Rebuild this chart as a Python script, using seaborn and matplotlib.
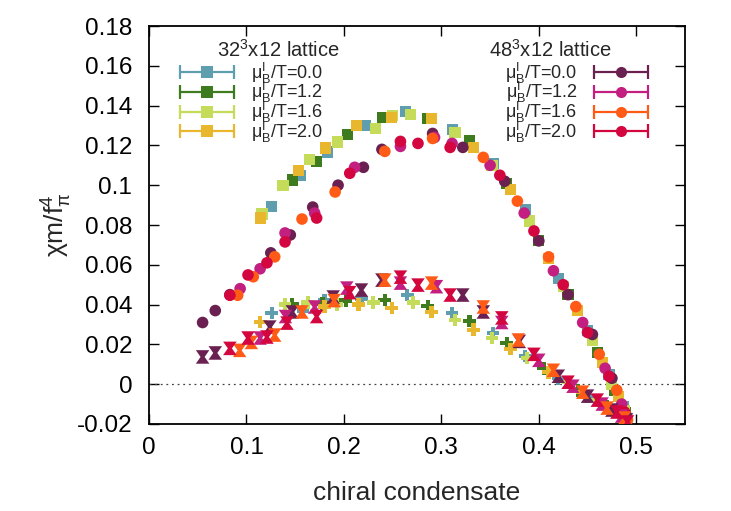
import matplotlib
matplotlib.use("Agg")
import matplotlib.pyplot as plt
import seaborn as sns
import pandas as pd
from matplotlib.legend_handler import HandlerLine2D
from matplotlib.lines import Line2D
from matplotlib.ticker import FuncFormatter

# mu_B^I/T values and colours
mu_values = ["0.0", "1.2", "1.6", "2.0"]
colors_32 = ["#5f9eae", "#3e7a1e", "#c4dc5a", "#e8b72e"]
colors_48 = ["#6a2050", "#c21f80", "#ff5b16", "#d3063f"]

# 32^3x12, upper branch (squares), one list per mu
up32_x = [
    [0.126, 0.155, 0.183, 0.222, 0.263, 0.311, 0.353, 0.386, 0.42, 0.45, 0.472, 0.487],
    [0.147, 0.172, 0.204, 0.240, 0.286, 0.329, 0.367, 0.40, 0.43, 0.46, 0.478, 0.489],
    [0.116, 0.1375, 0.165, 0.193, 0.232, 0.250, 0.268, 0.314, 0.352, 0.39, 0.425, 0.455, 0.475, 0.488],
    [0.114, 0.153, 0.181, 0.213, 0.249, 0.29, 0.333, 0.371, 0.41, 0.44, 0.465, 0.482, 0.490],
]
up32_y = [
    [0.0895, 0.105, 0.1167, 0.130, 0.137, 0.128, 0.111, 0.088, 0.053, 0.027, 0.005, -0.011],
    [0.1026, 0.112, 0.1257, 0.1338, 0.1335, 0.1225, 0.101, 0.072, 0.045, 0.016, -0.003, -0.014],
    [0.0855, 0.100, 0.1127, 0.1217, 0.1287, 0.135, 0.1357, 0.1265, 0.110, 0.082, 0.049, 0.022, 0.0, -0.013],
    [0.0835, 0.1076, 0.1187, 0.130, 0.1338, 0.1335, 0.119, 0.098, 0.063, 0.037, 0.011, -0.006, -0.018],
]

# 32^3x12, lower branch
lo32_x = [
    [0.126, 0.158, 0.180, 0.218, 0.265, 0.311, 0.353, 0.386, 0.42, 0.45, 0.475],
    [0.147, 0.178, 0.202, 0.242, 0.286, 0.329, 0.367, 0.405, 0.44, 0.47, 0.487],
    [0.1396, 0.163, 0.193, 0.230, 0.271, 0.314, 0.352, 0.388, 0.43, 0.46, 0.482],
    [0.114, 0.18, 0.215, 0.249, 0.29, 0.333, 0.371, 0.41, 0.445, 0.478, 0.49],
]
lo32_y = [
    [0.0358, 0.037, 0.0423, 0.043, 0.0448, 0.0358, 0.0257, 0.0142, 0.003, -0.006, -0.013],
    [0.040, 0.0405, 0.042, 0.0423, 0.0393, 0.0318, 0.0207, 0.008, -0.003, -0.011, -0.016],
    [0.040, 0.041, 0.040, 0.041, 0.041, 0.0323, 0.0232, 0.0132, 0.001, -0.008, -0.014],
    [0.0313, 0.039, 0.040, 0.0383, 0.0363, 0.0273, 0.0177, 0.006, -0.004, -0.013, -0.018],
]

# 48^3x12, upper branch (circles)
up48_x = [
    [0.055, 0.068, 0.083, 0.125, 0.145, 0.168, 0.194, 0.22, 0.239, 0.291, 0.322, 0.365, 0.40, 0.43, 0.455, 0.475, 0.49],
    [0.0935, 0.114, 0.1396, 0.170, 0.211, 0.258, 0.293, 0.311, 0.35, 0.385, 0.415, 0.445, 0.468, 0.485],
    [0.091, 0.107, 0.129, 0.157, 0.191, 0.242, 0.291, 0.343, 0.378, 0.41, 0.438, 0.462, 0.48, 0.491],
    [0.083, 0.1016, 0.121, 0.1396, 0.172, 0.206, 0.258, 0.276, 0.309, 0.36, 0.395, 0.425, 0.45, 0.472, 0.488],
]
up48_y = [
    [0.031, 0.037, 0.045, 0.066, 0.075, 0.089, 0.100, 0.109, 0.118, 0.126, 0.119, 0.102, 0.072, 0.045, 0.025, 0.003, -0.016],
    [0.048, 0.058, 0.076, 0.086, 0.109, 0.1195, 0.124, 0.121, 0.110, 0.086, 0.057, 0.031, 0.008, -0.010],
    [0.0447, 0.054, 0.064, 0.083, 0.0966, 0.117, 0.1235, 0.114, 0.092, 0.064, 0.039, 0.015, -0.003, -0.018],
    [0.0447, 0.0549, 0.061, 0.0715, 0.0835, 0.106, 0.122, 0.121, 0.119, 0.105, 0.077, 0.050, 0.026, 0.004, -0.014],
]

# 48^3x12, lower branch
lo48_x = [
    [0.055, 0.068, 0.124, 0.147, 0.189, 0.218, 0.239, 0.322, 0.343, 0.38, 0.42, 0.45, 0.475, 0.49],
    [0.114, 0.14, 0.17, 0.203, 0.258, 0.295, 0.362, 0.40, 0.435, 0.465, 0.485],
    [0.093, 0.105, 0.129, 0.157, 0.19, 0.242, 0.29, 0.343, 0.379, 0.415, 0.445, 0.47, 0.488],
    [0.083, 0.1016, 0.121, 0.1416, 0.172, 0.206, 0.258, 0.276, 0.309, 0.362, 0.395, 0.43, 0.46, 0.48, 0.491],
]
lo48_y = [
    [0.0137, 0.0157, 0.0287, 0.0363, 0.0438, 0.0473, 0.0523, 0.0448, 0.0363, 0.0215, 0.004, -0.006, -0.013, -0.018],
    [0.0232, 0.034, 0.0388, 0.0483, 0.0508, 0.049, 0.031, 0.012, -0.001, -0.010, -0.016],
    [0.017, 0.021, 0.0247, 0.0363, 0.042, 0.0523, 0.0508, 0.0388, 0.0222, 0.007, -0.004, -0.012, -0.017],
    [0.018, 0.0232, 0.0237, 0.0307, 0.034, 0.046, 0.0538, 0.0498, 0.0448, 0.0333, 0.015, 0.001, -0.008, -0.014, -0.019],
]

sns.set_style("ticks")
plt.rcParams["font.family"] = ["Liberation Sans", "DejaVu Sans"]
plt.rcParams["mathtext.fontset"] = "custom"
plt.rcParams["mathtext.rm"] = "Liberation Sans"
plt.rcParams["mathtext.it"] = "Liberation Sans"
plt.rcParams["mathtext.default"] = "regular"

fig = plt.figure(figsize=(7.31, 5.11), dpi=100)
ax = fig.add_axes([149 / 731, 1 - 424 / 511, 536 / 731, 398 / 511])

hourglass = [(-1, 1), (1, 1), (0.3, 0), (1, -1), (-1, -1), (-0.3, 0), (-1, 1)]


def long_frame(xs, ys):
    rows = []
    for i, mu in enumerate(mu_values):
        for x, y in zip(xs[i], ys[i]):
            rows.append({"cond": x, "chi": y, "mu": mu})
    return pd.DataFrame(rows)


ax.axhline(0, color="#444444", lw=0.9, ls=(0, (1.5, 3)), zorder=1)

# 32^3 lattice: squares on top, crosses below
sns.scatterplot(data=long_frame(up32_x, up32_y), x="cond", y="chi", hue="mu",
                palette=colors_32, marker="s", s=64, linewidth=0,
                legend=False, ax=ax, zorder=3)
sns.scatterplot(data=long_frame(lo32_x, lo32_y), x="cond", y="chi", hue="mu",
                palette=colors_32, marker="P", s=85, linewidth=0,
                legend=False, ax=ax, zorder=3)
# 48^3 lattice: circles on top, hourglasses below
sns.scatterplot(data=long_frame(up48_x, up48_y), x="cond", y="chi", hue="mu",
                palette=colors_48, marker="o", s=70, linewidth=0,
                legend=False, ax=ax, zorder=4)
sns.scatterplot(data=long_frame(lo48_x, lo48_y), x="cond", y="chi", hue="mu",
                palette=colors_48, marker=hourglass, s=95, linewidth=0,
                legend=False, ax=ax, zorder=4)

ax.set_xlim(0, 0.55)
ax.set_ylim(-0.02, 0.18)
ax.set_xticks([0, 0.1, 0.2, 0.3, 0.4, 0.5])
ax.set_yticks([-0.02, 0, 0.02, 0.04, 0.06, 0.08, 0.1, 0.12, 0.14, 0.16, 0.18])
fmt = FuncFormatter(lambda v, p: f"{round(v, 3):g}")
ax.xaxis.set_major_formatter(fmt)
ax.yaxis.set_major_formatter(fmt)
ax.tick_params(direction="in", length=7.5, width=1, top=True, right=True,
               labelsize=17.5, colors="black")
ax.tick_params(axis="x", pad=9)
ax.tick_params(axis="y", pad=12)
for s in ax.spines.values():
    s.set_linewidth(1.3)
    s.set_color("black")

ax.set_xlabel("chiral condensate", fontsize=19, labelpad=16)
ax.set_ylabel(r"$\chi$m/f$_\pi^4$", fontsize=19, labelpad=2)


# legend samples: horizontal error bar with caps and the point symbol
def legend_items(colors, marker):
    items, hmap = [], {}
    for c in colors:
        bar = Line2D([], [], color=c, lw=1.6, marker="|", ms=10, mew=1.6)
        dot = Line2D([], [], color=c, ls="none", marker=marker, ms=8, mew=0)
        hmap[bar] = HandlerLine2D(numpoints=2, marker_pad=0)
        items.append((bar, dot))
    return items, hmap


labels = [r"$\mu_B^I$/T=" + mu for mu in mu_values]
items32, hmap32 = legend_items(colors_32, "s")
items48, hmap48 = legend_items(colors_48, "o")

leg_kw = dict(frameon=False, fontsize=13, handlelength=3.0, handletextpad=0.9,
              labelspacing=-0.3, borderpad=0, borderaxespad=0, numpoints=1)
leg1 = ax.legend(items32, labels, loc="upper left", bbox_to_anchor=(0.058, 0.913),
                 handler_map=hmap32, **leg_kw)
ax.add_artist(leg1)
ax.legend(items48, labels, loc="upper right", bbox_to_anchor=(0.931, 0.913),
          handler_map=hmap48, markerfirst=False, **leg_kw)

ax.text(0.241, 0.94, "32$^3$x12 lattice", transform=ax.transAxes,
        ha="center", va="center", fontsize=14.5)
ax.text(0.748, 0.94, "48$^3$x12 lattice", transform=ax.transAxes,
        ha="center", va="center", fontsize=14.5)

fig.savefig("out.png", dpi=100)
